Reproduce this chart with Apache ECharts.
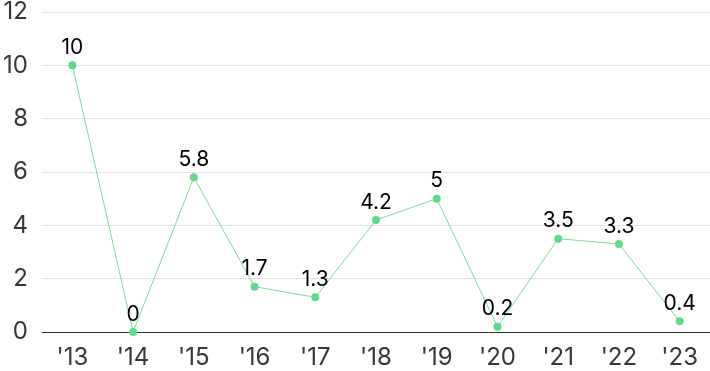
<!DOCTYPE html>
<html><head><meta charset="utf-8">
<script src="https://cdn.jsdelivr.net/npm/echarts@6/dist/echarts.min.js"></script>
<style>html,body{margin:0;padding:0;background:#fff}#c{width:710px;height:371px}</style>
</head><body><div id="c"></div>
<script>
const categories = ["'13","'14","'15","'16","'17","'18","'19","'20","'21","'22","'23"];
const values = [10, 0, 5.8, 1.7, 1.3, 4.2, 5, 0.2, 3.5, 3.3, 0.4];
const chart = echarts.init(document.getElementById('c'));
chart.setOption({
  animation: false,
  grid: {left: 42, right: 0, top: 7, bottom: 39},
  xAxis: {
    type: 'category', data: categories, boundaryGap: true,
    axisLine: {lineStyle: {color: '#333', width: 1}},
    axisTick: {show: false},
    axisLabel: {color: '#383838', fontSize: 24, fontFamily: 'Inter', margin: 14}
  },
  yAxis: {
    type: 'value', min: 0, max: 12, interval: 2,
    axisLine: {show: false}, axisTick: {show: false},
    splitLine: {lineStyle: {color: '#e3e3e3', width: 1}},
    axisLabel: {color: '#383838', fontSize: 24, fontFamily: 'Inter', margin: 14}
  },
  series: [{
    type: 'line', data: values,
    symbol: 'circle', symbolSize: 8,
    itemStyle: {color: '#63d98d'},
    lineStyle: {color: '#7ddc9b', width: 1},
    label: {show: true, position: 'top', color: '#000', fontSize: 21, fontFamily: 'Inter', distance: 3}
  }]
});
</script></body></html>
